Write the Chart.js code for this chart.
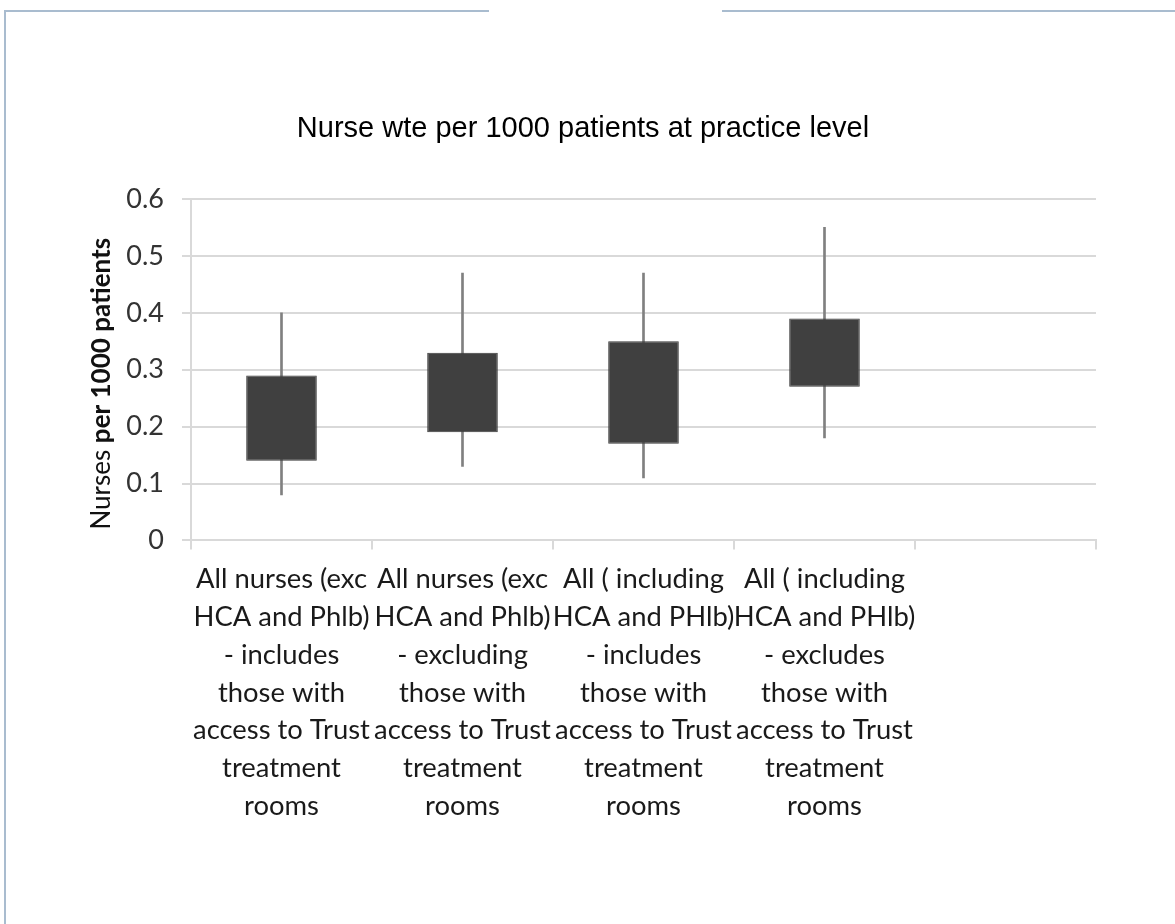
<!DOCTYPE html>
<html>
<head>
<meta charset="utf-8">
<script src="https://cdn.jsdelivr.net/npm/chart.js@4/dist/chart.umd.min.js"></script>
<style>
  html, body { margin: 0; padding: 0; background: #fff; }
  #wrap { position: relative; width: 1175px; height: 924px; overflow: hidden; }
  .rule { position: absolute; background: #a9bccf; }
  canvas { position: absolute; left: 0; top: 0; }
</style>
</head>
<body>
<div id="wrap">
  <canvas id="c" width="1175" height="924"></canvas>
  <div class="rule" style="left:4px; top:10px; width:485px; height:2px;"></div>
  <div class="rule" style="left:722px; top:10px; width:453px; height:2px;"></div>
  <div class="rule" style="left:4px; top:10px; width:2px; height:914px;"></div>
</div>
<script>
// stock-style chart: whisker = low/high, box = quartiles

const categories = [
  ['All nurses (exc', 'HCA and Phlb)', '- includes', 'those with', 'access to Trust', 'treatment', 'rooms'],
  ['All nurses (exc', 'HCA and Phlb)', '- excluding', 'those with', 'access to Trust', 'treatment', 'rooms'],
  ['All ( including', 'HCA and PHlb)', '- includes', 'those with', 'access to Trust', 'treatment', 'rooms'],
  ['All ( including', 'HCA and PHlb)', '- excludes', 'those with', 'access to Trust', 'treatment', 'rooms'],
  ''
];
const whiskerLow  = [0.08, 0.13, 0.11, 0.18, null];
const whiskerHigh = [0.40, 0.47, 0.47, 0.55, null];
const boxLow      = [0.14, 0.19, 0.17, 0.27, null];
const boxHigh     = [0.29, 0.33, 0.35, 0.39, null];
const yMin = 0, yMax = 0.6, yStep = 0.1;

const TITLE = 'Nurse wte per 1000 patients at practice level';
const Y_TITLE_PLAIN = 'Nurses ';
const Y_TITLE_BOLD = 'per 1000 patients';

const LABEL_FONT = "Lato, 'Open Sans', sans-serif";
const GRID = '#d9d9d9';

const pairs = (lo, hi) => lo.map((v, i) => (v == null ? null : [v, hi[i]]));

// chart title (centred on the whole frame, not the plot) + rotated y title with mixed weight
const titlesPlugin = {
  id: 'titles',
  afterDraw(chart) {
    const ctx = chart.ctx;
    const area = chart.chartArea;
    ctx.save();
    ctx.fillStyle = '#000';
    ctx.textAlign = 'center';
    ctx.textBaseline = 'middle';
    ctx.font = "29px 'Liberation Sans', Arial, sans-serif";
    ctx.fillText(TITLE, 583, 129);
    ctx.restore();

    const size = 26;
    ctx.save();
    ctx.fillStyle = '#111';
    ctx.textBaseline = 'middle';
    ctx.font = size + 'px ' + LABEL_FONT;
    const w1 = ctx.measureText(Y_TITLE_PLAIN).width;
    ctx.font = 'bold ' + size + 'px ' + LABEL_FONT;
    const w2 = ctx.measureText(Y_TITLE_BOLD).width;
    ctx.translate(102, (area.top + area.bottom) / 2 + 14);
    ctx.rotate(-Math.PI / 2);
    const x = -(w1 + w2) / 2;
    ctx.textAlign = 'left';
    ctx.font = size + 'px ' + LABEL_FONT;
    ctx.fillText(Y_TITLE_PLAIN, x, 0);
    ctx.font = 'bold ' + size + 'px ' + LABEL_FONT;
    ctx.fillText(Y_TITLE_BOLD, x + w1, 0);
    ctx.restore();
  }
};

new Chart(document.getElementById('c'), {
  type: 'bar',
  data: {
    labels: categories,
    datasets: [
      {
        label: 'Quartiles',
        data: pairs(boxLow, boxHigh),
        backgroundColor: '#404040',
        borderColor: '#3a3a3a',
        borderWidth: 1,
        borderSkipped: false,
        grouped: false,
        categoryPercentage: 1,
        barPercentage: 0.39,
        order: 0
      },
      {
        label: 'Range',
        data: pairs(whiskerLow, whiskerHigh),
        backgroundColor: '#808080',
        borderWidth: 0,
        grouped: false,
        barThickness: 2,
        order: 1
      }
    ]
  },
  options: {
    responsive: false,
    animation: false,
    devicePixelRatio: 1,
    layout: { padding: { left: 0, right: 79, top: 199, bottom: 88 } },
    plugins: {
      legend: { display: false },
      tooltip: { enabled: false },
      title: { display: false }
    },
    scales: {
      x: {
        grid: { offset: true, drawOnChartArea: false, color: GRID, lineWidth: 2, tickLength: 9 },
        border: { color: GRID, width: 2 },
        ticks: {
          autoSkip: false,
          maxRotation: 0,
          padding: 11,
          color: '#1a1a1a',
          font: { family: LABEL_FONT, size: 27.4, lineHeight: '37.8px' }
        }
      },
      y: {
        min: yMin,
        max: yMax,
        grid: { color: GRID, lineWidth: 2, tickLength: 9 },
        border: { color: GRID, width: 2 },
        ticks: {
          stepSize: yStep,
          padding: 18,
          color: '#333',
          font: { family: LABEL_FONT, size: 27 }
        },
        afterFit(scale) { scale.width = 191; }
      }
    }
  },
  plugins: [titlesPlugin]
});
</script>
</body>
</html>
